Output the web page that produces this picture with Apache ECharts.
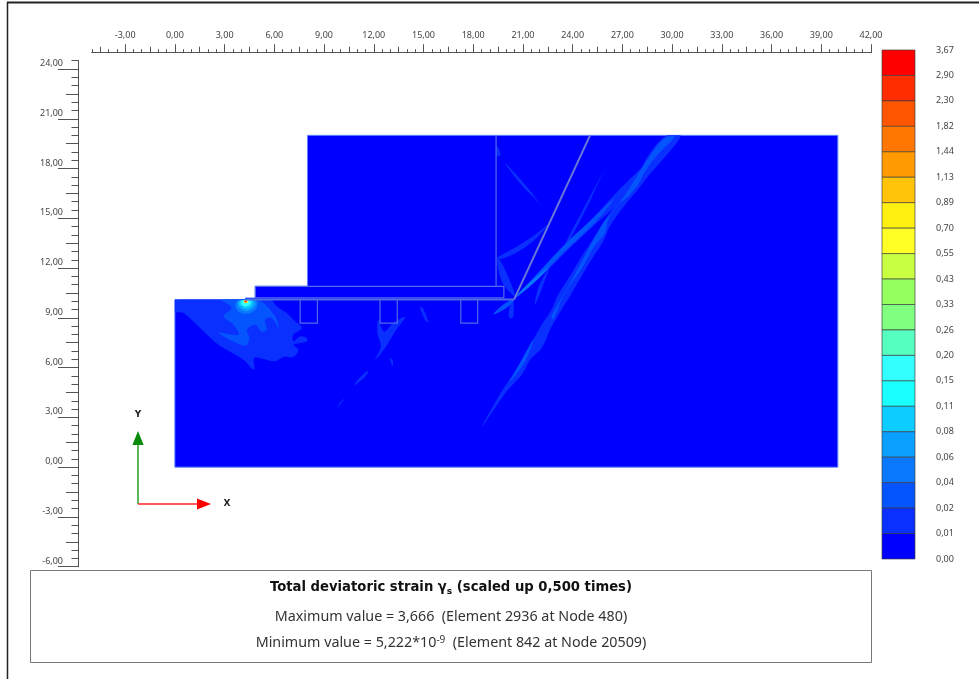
<!DOCTYPE html>
<html>
<head>
<meta charset="utf-8">
<title>Total deviatoric strain</title>
<style>
html,body{margin:0;padding:0;background:#fff;}
#main{width:979px;height:679px;}
</style>
<script src="https://cdn.jsdelivr.net/npm/echarts@6/dist/echarts.min.js"></script>
</head>
<body>
<div id="main"></div>
<script>
// axis labels
var xTickLabels = [-3,0,3,6,9,12,15,18,21,24,27,30,33,36,39,42];
var xMidTicks = [-4.5,-1.5,1.5,4.5,7.5,10.5,13.5,16.5,19.5,22.5,25.5,28.5,31.5,34.5,37.5,40.5];
var yTickLabels = [-6,-3,0,3,6,9,12,15,18,21,24];
var yMidTicks = [-4.5,-1.5,1.5,4.5,7.5,10.5,13.5,16.5,19.5,22.5];

// colour scale, top to bottom
var legendLabels = ['3,67','2,90','2,30','1,82','1,44','1,13','0,89','0,70','0,55','0,43','0,33','0,26','0,20','0,15','0,11','0,08','0,06','0,04','0,02','0,01','0,00'];
var legendColors = ['#ff0000','#ff2d00','#ff5500','#ff7700','#ff9a00','#ffc40a','#fff012','#ffff26','#c8ff40','#96ff60','#80ff80','#55ffc0','#33ffff','#1affff','#0dccff','#0aa0ff','#0a78ff','#0555ff','#0a30ff','#0000ff'];

// model outline, x/y in metres
var modelOutline = [[0,0],[40,0],[40,20],[8,20],[8,10.9],[4.85,10.9],[4.85,10.2],[4.25,10.2],[4.25,10.1],[0,10.1]];
var structureLines = [
  [[19.38,20],[19.38,10.9]],
  [[20.46,10.1],[25.05,20]],
  [[4.25,10.1],[20.46,10.1]],
  [[4.85,10.9],[19.85,10.9],[19.85,10.2],[4.85,10.2],[4.85,10.9]],
  [[7.56,10.1],[7.56,8.68],[8.6,8.68],[8.6,10.1]],
  [[12.38,10.1],[12.38,8.68],[13.42,8.68],[13.42,10.1]],
  [[17.25,10.1],[17.25,8.68],[18.27,8.68],[18.27,10.1]]
];

// strain contours, one list per band
var strain001 = [
  [[0,10.1],[0,9.39],[0.52,9.29],[1.63,8.28],[2.63,7.38],[4.14,6.48],[4.78,5.87],[4.78,6.58],[5.34,6.52],[6.05,6.38],[6.55,6.64],[7.15,6.64],[7.45,7.08],[7.15,7.38],[7.96,7.58],[7.96,7.78],[7.55,7.88],[7.15,7.58],[7.15,7.98],[7.66,8.39],[7.15,8.89],[6.75,9.29],[6.15,9.69],[5.75,10.1]],
  [[12.28,8.89],[12.62,8.18],[13.18,8.69],[13.89,9.05],[13.28,8.18],[12.68,7.18],[12.08,6.48],[12.42,7.28],[12.22,8.08]],
  [[11.68,5.81],[11.47,5.43],[10.81,4.93],[11.27,5.51]],
  [[10.21,4.1],[9.87,3.66],[9.77,3.5],[9.97,3.9]],
  [[14.79,9.65],[14.99,9.53],[15.29,8.73],[15.09,8.89]],
  [[12.98,6.58],[13.14,6.44],[13.14,6.11],[13.04,6.3]],
  [[18.55,2.46],[19.72,4.57],[20.32,5.47],[20.93,6.48],[21.63,7.72],[22.13,8.59],[22.73,9.49],[23.08,10.32],[23.84,11.52],[24.44,12.53],[25.15,13.63],[25.75,14.54],[26.25,15.34],[27.26,16.44],[27.76,17.15],[28.2,18.15],[28.9,19.26],[29.7,20],[30.51,20],[29.8,18.96],[28.56,17.55],[27.86,16.65],[27.26,15.94],[26.25,14.54],[25.85,13.63],[25.15,12.53],[24.54,11.52],[23.84,10.32],[23.14,9.19],[22.63,8.29],[22.13,7.18],[21.43,6.48],[20.93,5.57],[20.02,4.57]],
  [[20.52,10.2],[22.03,11.82],[23.54,13.43],[25.05,14.84],[26.45,16.34],[27.3,17.2],[28.3,18.1],[27.9,17.1],[27.26,16.44],[26.85,15.94],[25.25,14.54],[23.64,13.03],[22.33,11.72]],
  [[20.42,10.01],[20.42,9.11],[20.26,8.95],[20.14,9.11],[20.26,9.91]],
  [[22.53,14.64],[21.63,13.63],[20.42,12.83],[19.52,12.52],[19.52,12.68],[20.52,13.23],[21.63,13.93]],
  [[19.46,12.62],[19.82,12.12],[20.52,10.32],[19.82,11.02],[19.52,11.92]],
  [[19.92,18.35],[21.03,17.15],[21.83,16.14],[22.53,14.94],[21.93,15.94],[20.93,16.99],[20.02,18.15]],
  [[25.95,17.85],[25.55,17.15],[24.95,15.84],[23.84,13.73],[23.54,13.43],[24.64,15.54],[25.55,17.25]],
  [[22.59,12.02],[22.13,10.72],[21.73,9.81],[21.93,10.82]],
  [[19.42,19.36],[19.66,18.86],[19.42,18.75]]
];
var strain002 = [
  [[2.83,10.1],[3.43,9.59],[2.93,9.09],[3.54,8.59],[3.84,7.98],[2.63,8.12],[4.24,7.32],[4.5,7.78],[4.34,8.28],[4.84,8.59],[5.24,8.18],[5.54,8.28],[5.44,8.89],[5.85,8.99],[6.25,8.39],[6.15,8.89],[5.75,9.49],[5.34,9.89],[5.04,10.1]],
  [[29.47,19.76],[30.17,19.96],[28.97,18.65],[28.26,17.65],[27.96,17.05],[27.26,16.24],[26.65,15.74],[26.15,14.94],[25.95,14.13],[25.25,13.23],[24.64,12.12],[23.44,10.32],[22.84,8.91],[22.73,9.11],[23.64,10.72],[24.84,12.93],[25.85,14.74],[26.45,15.44],[27.26,16.55],[28.26,18.15]],
  [[21.63,7.68],[21.13,6.37],[20.22,5.17],[20.83,6.28]],
  [[20.52,10.2],[22.03,11.82],[23.54,13.43],[25.05,14.84],[26.45,16.14],[25.25,14.64],[23.64,13.13],[22.33,11.82]],
  [[20.52,10.17],[20.02,9.61],[19.22,9.21],[19.82,9.81]]
];
var strain004 = [
  [[3.64,10.05],[5.04,10.05],[5.24,9.69],[5.04,9.29],[4.34,9.05],[3.64,9.25],[3.39,9.65]]
];
var strain006 = [
  [[3.78,10.05],[4.9,10.05],[4.98,9.73],[4.74,9.39],[4.3,9.25],[3.84,9.39],[3.64,9.73]],
  [[20.52,10.2],[21.5,11.2],[22.6,12.1],[21.6,11.05]]
];
var strain008 = [
  [[3.9,10.05],[4.78,10.05],[4.86,9.77],[4.58,9.49],[4.28,9.41],[3.98,9.53],[3.78,9.77]]
];
var strain011 = [
  [[3.98,10.05],[4.66,10.05],[4.7,9.81],[4.5,9.61],[4.26,9.55],[4.04,9.65],[3.88,9.85]]
];
var strain020 = [
  [[4.06,10.05],[4.54,10.05],[4.56,9.85],[4.38,9.71],[4.2,9.69],[4,9.85]]
];
var strain070 = [
  [[4.14,10.05],[4.44,10.05],[4.38,9.89],[4.2,9.89]]
];
var strain290 = [
  [[4.18,10.05],[4.36,10.05],[4.32,9.93],[4.22,9.93]]
];

var FONT = '"Noto Sans", sans-serif';
var AXIS_COLOR = '#555';
var LABEL_COLOR = '#444';

function fmt(v){ return v.toFixed(2).replace('.', ','); }

function toPixels(api, poly){
  return poly.map(function(pt){ return api.coord(pt); });
}

function polygonSeries(polys, color, stroke, lineWidth, smooth){
  return {
    type: 'custom',
    silent: true,
    animation: false,
    xAxisIndex: 0,
    yAxisIndex: 0,
    data: polys.map(function(p){ return p[0]; }),
    renderItem: function(params, api){
      var el = {
        type: 'polygon',
        shape: {points: toPixels(api, polys[params.dataIndex]), smooth: smooth || 0},
        style: {fill: color, stroke: stroke || null, lineWidth: lineWidth || 0}
      };
      // smoothed contours must stay inside the model
      if (smooth) el.clipPath = {type: 'polygon', shape: {points: toPixels(api, modelOutline)}};
      return el;
    }
  };
}

var structureSeries = {
  type: 'custom',
  silent: true,
  animation: false,
  xAxisIndex: 0,
  yAxisIndex: 0,
  data: structureLines.map(function(l){ return l[0]; }),
  renderItem: function(params, api){
    var i = params.dataIndex;
    return {
      type: 'polyline',
      shape: {points: toPixels(api, structureLines[i])},
      style: {fill: null, stroke: i == 1 ? '#6a78d8' : '#4f6be8', lineWidth: i == 1 || i == 2 ? 2 : 1.2}
    };
  }
};

var legendSeries = {
  type: 'custom',
  silent: true,
  animation: false,
  xAxisIndex: 3,
  yAxisIndex: 3,
  data: legendColors.map(function(c, i){ return [0, i]; }),
  renderItem: function(params, api){
    var i = params.dataIndex;
    var a = api.coord([0, i]);
    var b = api.coord([1, i + 1]);
    return {
      type: 'rect',
      shape: {x: a[0], y: a[1], width: b[0] - a[0], height: b[1] - a[1]},
      style: {fill: legendColors[i], stroke: 'rgba(60,60,60,0.65)', lineWidth: 1}
    };
  }
};

function xAxisPart(ticks, tickLen, labels){
  var axis = {
    type: 'value', gridIndex: 0, min: -5, max: 42, position: 'top', offset: 8,
    axisLine: {show: true, onZero: false, lineStyle: {color: AXIS_COLOR}},
    axisTick: {show: true, length: tickLen, lineStyle: {color: AXIS_COLOR}},
    axisLabel: {show: false},
    splitLine: {show: false}
  };
  if (ticks) axis.axisTick.customValues = ticks; else axis.interval = 0.5;
  if (labels) axis.axisLabel = {show: true, customValues: labels, formatter: fmt, margin: 13, fontSize: 9, fontFamily: FONT, color: LABEL_COLOR};
  return axis;
}

function yAxisPart(ticks, tickLen, labels){
  var axis = {
    type: 'value', gridIndex: 0, min: -6, max: 24.5, position: 'left', offset: 14,
    axisLine: {show: true, onZero: false, lineStyle: {color: AXIS_COLOR}},
    axisTick: {show: true, length: tickLen, lineStyle: {color: AXIS_COLOR}},
    axisLabel: {show: false},
    splitLine: {show: false}
  };
  if (ticks) axis.axisTick.customValues = ticks; else axis.interval = 0.5;
  if (labels) axis.axisLabel = {show: true, customValues: labels, formatter: fmt, margin: 15, fontSize: 9, fontFamily: FONT, color: LABEL_COLOR, verticalAlign: 'bottom', padding: [0,0,1,0]};
  return axis;
}

var myChart = echarts.init(document.getElementById('main'));

var option = {
  animation: false,
  backgroundColor: '#fff',
  grid: [
    {left: 92, top: 60.7, width: 779, height: 506},
    {left: 882, top: 50, width: 33, height: 509}
  ],
  xAxis: [
    xAxisPart(null, 3.5),
    xAxisPart(xMidTicks, 6),
    xAxisPart(xTickLabels, 8.5, xTickLabels),
    {type: 'value', gridIndex: 1, min: 0, max: 1, show: false}
  ],
  yAxis: [
    yAxisPart(null, 6.5),
    yAxisPart(yMidTicks, 12),
    yAxisPart(yTickLabels, 20, yTickLabels),
    {
      type: 'value', gridIndex: 1, min: 0, max: 20, interval: 1, inverse: true, position: 'right',
      axisLine: {show: false},
      axisTick: {show: false},
      splitLine: {show: false},
      axisLabel: {
        margin: 21, fontSize: 9, fontFamily: FONT, color: LABEL_COLOR, padding: [2,0,0,0],
        formatter: function(v){ return legendLabels[v]; }
      }
    }
  ],
  series: [
    polygonSeries([modelOutline], legendColors[19], '#5f86ff', 1),
    polygonSeries(strain001, legendColors[18], null, 0, 0.35),
    polygonSeries(strain002, legendColors[17], null, 0, 0.35),
    polygonSeries(strain004, legendColors[17], null, 0, 0.35),
    polygonSeries(strain006, legendColors[16], null, 0, 0.35),
    polygonSeries(strain008, legendColors[15], null, 0, 0.35),
    polygonSeries(strain011, legendColors[14], null, 0, 0.35),
    polygonSeries(strain020, legendColors[12], null, 0, 0.35),
    polygonSeries(strain070, legendColors[7]),
    polygonSeries(strain290, legendColors[1]),
    structureSeries,
    legendSeries
  ],
  graphic: [
    // page frame
    {type: 'line', shape: {x1: 7, y1: 2.5, x2: 979, y2: 2.5}, style: {stroke: '#222', lineWidth: 2}},
    {type: 'line', shape: {x1: 7.5, y1: 2, x2: 7.5, y2: 679}, style: {stroke: '#222', lineWidth: 1.5}},
    // global axes marker
    {type: 'line', shape: {x1: 138, y1: 504, x2: 138, y2: 444}, style: {stroke: '#5cb85c', lineWidth: 2}},
    {type: 'polygon', shape: {points: [[138,431],[143.7,445],[132.4,445]]}, style: {fill: '#0a8a0a'}},
    {type: 'line', shape: {x1: 138, y1: 504, x2: 198, y2: 504}, style: {stroke: '#ff5a5a', lineWidth: 2}},
    {type: 'polygon', shape: {points: [[211,504],[197,498.5],[197,509.5]]}, style: {fill: '#ff0000'}},
    {type: 'text', x: 138, y: 415, style: {text: 'Y', align: 'center', verticalAlign: 'middle', font: 'bold 9px "DejaVu Sans"', fill: '#222'}},
    {type: 'text', x: 227, y: 504, style: {text: 'X', align: 'center', verticalAlign: 'middle', font: 'bold 9px "DejaVu Sans"', fill: '#222'}},
    // caption box
    {type: 'rect', shape: {x: 30.5, y: 570.5, width: 841, height: 92}, style: {fill: '#fff', stroke: '#777', lineWidth: 1}},
    {type: 'text', x: 451, y: 588, style: {
      text: '{b|Total deviatoric strain γ}{s|s}{b| (scaled up 0,500 times)}',
      align: 'center', verticalAlign: 'middle',
      rich: {
        b: {font: 'bold 13.2px "DejaVu Sans"', fill: '#111'},
        s: {font: 'bold 9px "DejaVu Sans"', fill: '#111', padding: [8,0,0,0]}
      }
    }},
    {type: 'text', x: 451, y: 617, style: {text: 'Maximum value = 3,666  (Element 2936 at Node 480)', align: 'center', verticalAlign: 'middle', font: '14.3px "Noto Sans"', fill: '#333'}},
    {type: 'text', x: 451, y: 643, style: {
      text: '{n|Minimum value = 5,222*10}{u|-9}{n|  (Element 842 at Node 20509)}',
      align: 'center', verticalAlign: 'middle',
      rich: {
        n: {font: '14.3px "Noto Sans"', fill: '#333'},
        u: {font: '10px "Noto Sans"', fill: '#333', padding: [0,0,6,0]}
      }
    }}
  ]
};

myChart.setOption(option);
</script>
</body>
</html>
